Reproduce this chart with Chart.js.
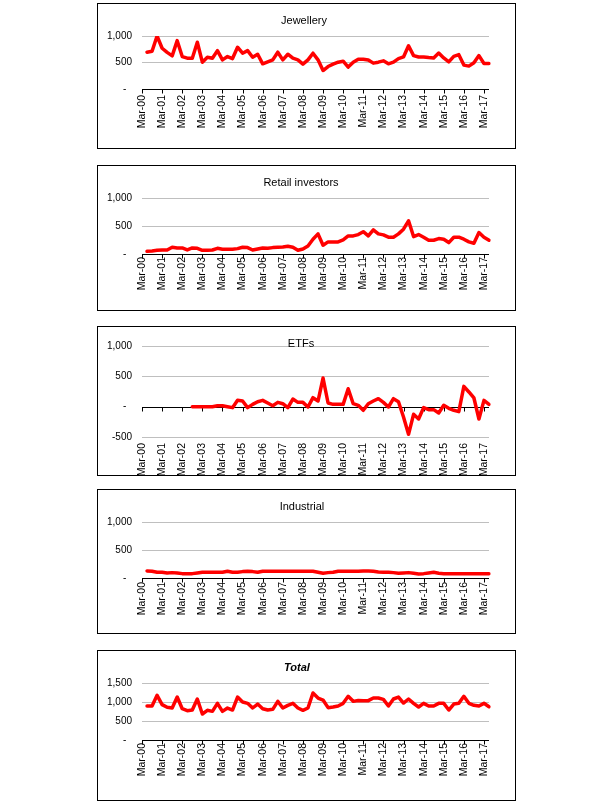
<!DOCTYPE html>
<html>
<head>
<meta charset="utf-8">
<title>Gold demand</title>
<script src="https://cdn.jsdelivr.net/npm/chart.js@4.4.0/dist/chart.umd.min.js"></script>
<style>
    body { margin: 0; background: #fff; }
    .panel { position: absolute; left: 97px; width: 419px; border: 1px solid #000; box-sizing: border-box; background: #fff; }
    .panel canvas { position: absolute; left: 0; top: 0; }
    .ttl { position: absolute; width: 200px; text-align: center; font: 11px "Liberation Sans", Arial, sans-serif; color: #000; line-height: 13px; }
</style>
</head>
<body>
<script>
(function () {
    'use strict';

    // quarterly categories, Mar-00 .. Jun-17
    var years = ['00','01','02','03','04','05','06','07','08','09','10','11','12','13','14','15','16','17'];
    var months = ['Mar','Jun','Sep','Dec'];
    var quarters = [];
    years.forEach(function (y) {
        months.forEach(function (m) { quarters.push(m + '-' + y); });
    });
    quarters = quarters.slice(0, 70);

    var jewellery = [null, 694, 713, 1000, 769, 690, 625, 912, 612, 581, 581, 882, 506, 600, 581, 724, 550, 612, 574, 788,
        675, 724, 600, 656, 475, 512, 550, 694, 550, 656, 581, 550, 469, 550, 675, 550, 349, 424, 469, 506,
        525, 413, 506, 563, 563, 549, 488, 506, 531, 475, 506, 574, 605, 815, 630, 605, 605, 593, 586, 679,
        586, 512, 617, 648, 451, 432, 494, 630, 481, 481];

    var retail = [null, 48, 54, 66, 72, 72, 120, 108, 108, 72, 108, 102, 66, 66, 72, 102, 84, 84, 84, 96,
        120, 114, 72, 90, 108, 102, 114, 120, 126, 138, 120, 66, 90, 144, 264, 359, 156, 216, 216, 216,
        252, 323, 323, 347, 398, 323, 431, 359, 341, 300, 300, 359, 443, 593, 311, 347, 300, 246, 246, 276,
        264, 204, 300, 300, 264, 216, 192, 383, 300, 246];

    var etfs = [null, null, null, null, null, null, null, null, null, null, 0, 0, 0, 0, 0, 16, 16, 0, -16, 104,
        93, -16, 38, 82, 104, 60, 16, 71, 49, -16, 126, 71, 71, -5, 148, 93, 472, 60, 38, 38,
        38, 296, 49, 22, -60, 49, 93, 132, 71, -5, 132, 82, -170, -456, -126, -203, -16, -49, -49, -104,
        22, -27, -60, -82, 335, 242, 143, -203, 104, 38];

    var industrial = [null, 126, 120, 102, 102, 90, 96, 90, 78, 78, 78, 90, 102, 102, 102, 102, 102, 120, 102, 102,
        114, 120, 114, 102, 120, 120, 120, 120, 120, 120, 120, 120, 120, 120, 120, 102, 84, 96, 102, 120,
        120, 120, 120, 120, 126, 126, 120, 108, 102, 102, 96, 84, 90, 96, 84, 72, 78, 90, 102, 84,
        78, 78, 78, 78, 78, 78, 78, 78, 78, 78];

    var total = [null, 895, 895, 1175, 930, 860, 842, 1131, 824, 772, 789, 1079, 684, 781, 754, 965, 754, 842, 789, 1131,
        1000, 965, 842, 947, 824, 789, 807, 1017, 842, 912, 965, 842, 781, 842, 1237, 1105, 1052, 851, 868, 895,
        965, 1149, 1017, 1040, 1030, 1035, 1105, 1105, 1070, 895, 1079, 1131, 973, 1079, 965, 868, 965, 895, 895, 965,
        965, 789, 947, 965, 1149, 965, 912, 895, 965, 877];

    Chart.defaults.font.family = '"Liberation Sans", Arial, sans-serif';
    Chart.defaults.color = '#000';

    var boxLeft = 97, boxRight = 515, plotLeft = 142, plotRight = 489;

    // black zero line with a tick every 4 quarters
    var zeroAxis = {
        id: 'zeroAxis',
        beforeDatasetsDraw: function (chart) {
            var ctx = chart.ctx, xs = chart.scales.x, ys = chart.scales.y;
            var y0 = Math.round(ys.getPixelForValue(0)) + 0.5;
            ctx.save();
            ctx.strokeStyle = '#000';
            ctx.lineWidth = 1;
            ctx.beginPath();
            ctx.moveTo(xs.left, y0);
            ctx.lineTo(xs.right, y0);
            for (var i = 0; i < quarters.length; i += 4) {
                var px = Math.round(xs.getPixelForValue(i)) + 0.5;
                ctx.moveTo(px, y0);
                ctx.lineTo(px, y0 + 4);
            }
            ctx.stroke();
            ctx.restore();
        }
    };

    function makePanel(p) {
        var panel = document.createElement('div');
        panel.className = 'panel';
        panel.style.top = p.top + 'px';
        panel.style.height = (p.bottom - p.top + 1) + 'px';
        document.body.appendChild(panel);

        var innerLeft = boxLeft + 1;
        var innerW = boxRight - boxLeft - 1;
        var innerTop = p.top + 1;
        var innerH = p.bottom - p.top - 1;
        var canvas = document.createElement('canvas');
        canvas.width = innerW;
        canvas.height = innerH;
        panel.appendChild(canvas);

        var ttl = document.createElement('div');
        ttl.className = 'ttl';
        ttl.textContent = p.title;
        ttl.style.left = (p.tx - 100) + 'px';
        ttl.style.top = (p.ty - 6.5) + 'px';
        if (p.bold) { ttl.style.fontWeight = 'bold'; ttl.style.fontStyle = 'italic'; }
        document.body.appendChild(ttl);

        new Chart(canvas, {
            type: 'line',
            data: {
                labels: quarters,
                datasets: [{
                    label: p.title,
                    data: p.data,
                    borderColor: '#ff0000',
                    borderWidth: 3.5,
                    borderCapStyle: 'round',
                    borderJoinStyle: 'round',
                    pointRadius: 0,
                    tension: 0,
                    fill: false
                }]
            },
            options: {
                responsive: false,
                animation: false,
                devicePixelRatio: 1,
                layout: {
                    padding: { top: p.plotTop - innerTop, right: innerLeft + innerW - plotRight, bottom: 0, left: 0 }
                },
                scales: {
                    x: {
                        offset: false,
                        grid: { display: false, drawTicks: false },
                        border: { display: false },
                        afterFit: function (scale) { scale.height = innerTop + innerH - p.plotBottom; },
                        ticks: {
                            autoSkip: false,
                            maxRotation: 90,
                            minRotation: 90,
                            padding: p.labelPad,
                            font: { size: 10.5 },
                            callback: function (value, index) {
                                return index % 4 === 0 ? quarters[index] : '';
                            }
                        }
                    },
                    y: {
                        min: p.min,
                        max: p.max,
                        afterFit: function (scale) { scale.width = plotLeft - innerLeft; },
                        border: { display: false },
                        grid: {
                            drawTicks: false,
                            color: function (c) { return c.tick && c.tick.value === 0 ? 'rgba(0,0,0,0)' : '#bfbfbf'; }
                        },
                        ticks: {
                            stepSize: 500,
                            padding: 10,
                            font: { size: 10 },
                            callback: function (value) {
                                if (value === 0) return '-  ';
                                return value.toLocaleString('en-US');
                            }
                        }
                    }
                },
                plugins: {
                    legend: { display: false },
                    tooltip: { enabled: false }
                }
            },
            plugins: [zeroAxis]
        });
    }

    makePanel({ title: 'Jewellery', data: jewellery, top: 3, bottom: 148, plotTop: 36, plotBottom: 89, min: 0, max: 1000, labelPad: 6, tx: 304, ty: 20.7 });
    makePanel({ title: 'Retail investors', data: retail, top: 165, bottom: 310, plotTop: 198, plotBottom: 254, min: 0, max: 1000, labelPad: 3, tx: 301, ty: 182.3 });
    makePanel({ title: 'ETFs', data: etfs, top: 326, bottom: 475, plotTop: 346, plotBottom: 437, min: -500, max: 1000, labelPad: 6, tx: 301, ty: 343.3 });
    makePanel({ title: 'Industrial', data: industrial, top: 489, bottom: 633, plotTop: 522, plotBottom: 578, min: 0, max: 1000, labelPad: 4, tx: 302, ty: 506 });
    makePanel({ title: 'Total', data: total, top: 650, bottom: 800, plotTop: 683, plotBottom: 740, min: 0, max: 1500, labelPad: 3, tx: 297, ty: 667.3, bold: true });

})();
</script>
</body>
</html>
